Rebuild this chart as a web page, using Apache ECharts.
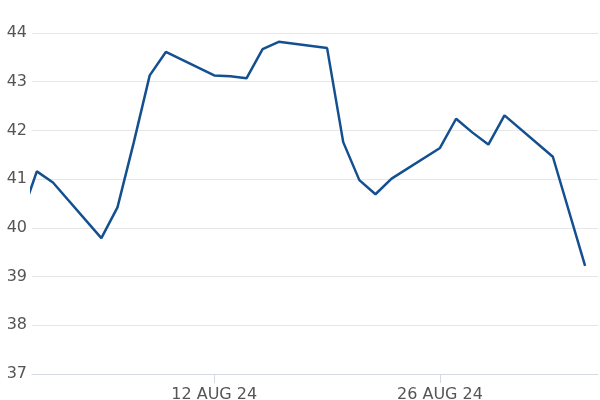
<!DOCTYPE html>
<html>
<head>
<meta charset="utf-8">
<script src="https://cdn.jsdelivr.net/npm/echarts@6/dist/echarts.min.js"></script>
<style>html,body{margin:0;padding:0;background:#fff}#c{width:600px;height:400px}</style>
</head>
<body>
<div id="c"></div>
<script>
const dates = ['2024-07-31','2024-08-01','2024-08-02','2024-08-05','2024-08-06','2024-08-07','2024-08-08','2024-08-09',
  '2024-08-12','2024-08-13','2024-08-14','2024-08-15','2024-08-16','2024-08-19','2024-08-20','2024-08-21','2024-08-22','2024-08-23',
  '2024-08-26','2024-08-27','2024-08-28','2024-08-29','2024-08-30','2024-09-02','2024-09-04'];
const values = [40.2,41.16,40.93,39.79,40.42,41.74,43.13,43.61,
  43.13,43.11,43.07,43.67,43.82,43.69,41.76,40.98,40.69,41.01,
  41.64,42.24,41.96,41.71,42.31,41.46,39.22];
const tickDates = ['2024-08-12','2024-08-26'];

const DAY = 86400000;
const ts = d => { const p = d.split('-').map(Number); return Date.UTC(p[0], p[1]-1, p[2]); };
const MON = ['JAN','FEB','MAR','APR','MAY','JUN','JUL','AUG','SEP','OCT','NOV','DEC'];
const fmt = v => { const d = new Date(v); return d.getUTCDate() + ' ' + MON[d.getUTCMonth()] + ' ' + String(d.getUTCFullYear()).slice(2); };

const chart = echarts.init(document.getElementById('c'), null, {renderer:'canvas'});
chart.setOption({
  animation: false,
  grid: {left: 32, right: 2, top: 33, bottom: 26, containLabel: false, outerBoundsMode: 'none'},
  xAxis: {
    type: 'value',
    min: ts('2024-08-01') - 0.3 * DAY,
    max: ts('2024-09-04') + 0.8 * DAY,
    axisLine: {show: true, lineStyle: {color: '#d5d9e2', width: 1}},
    axisTick: {show: true, customValues: tickDates.map(ts), length: 9, lineStyle: {color: '#d5d9e2'}},
    axisLabel: {customValues: tickDates.map(ts), formatter: v => fmt(v), color: '#555', fontSize: 16, fontFamily: 'DejaVu Sans', margin: 13},
    splitLine: {show: false}
  },
  yAxis: {
    type: 'value', min: 37, max: 44, interval: 1,
    axisLine: {show: false}, axisTick: {show: false},
    axisLabel: {color: '#555', fontSize: 16, fontFamily: 'DejaVu Sans', margin: 5},
    splitLine: {lineStyle: {color: '#e6e6e6', width: 1}}
  },
  series: [{
    type: 'line', data: dates.map((d,i) => [ts(d), values[i]]),
    symbol: 'none', clip: true,
    lineStyle: {color: '#14508f', width: 2.5}
  }]
});
</script>
</body>
</html>
